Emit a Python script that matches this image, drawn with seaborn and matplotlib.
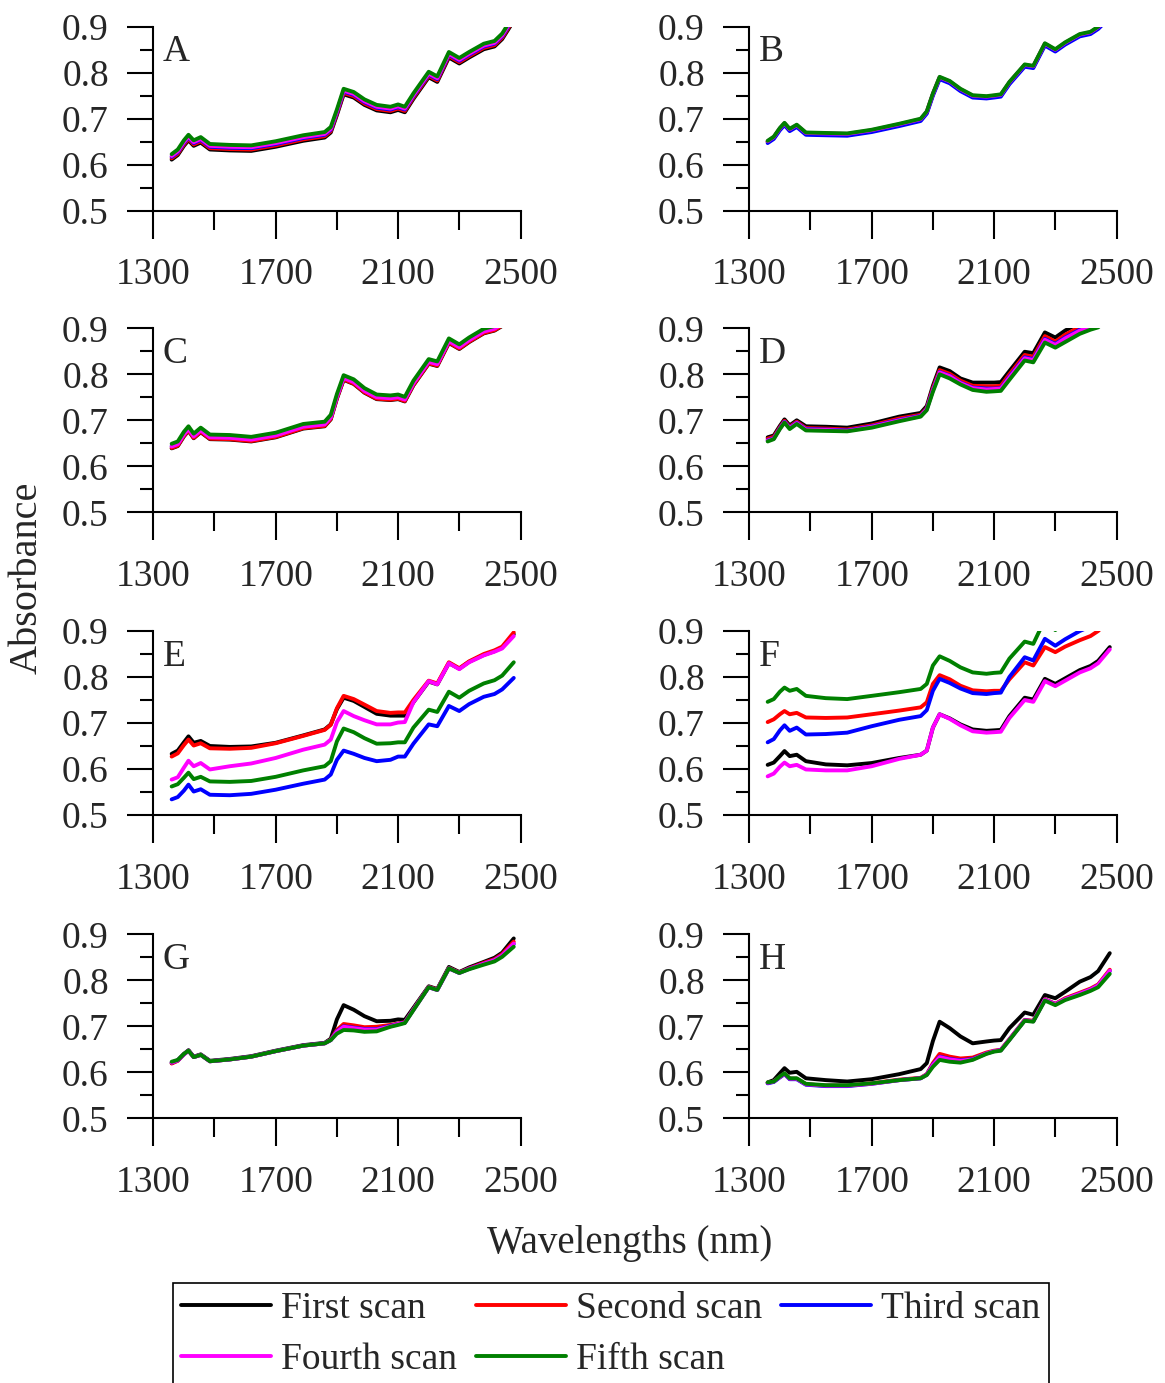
import numpy as np
import pandas as pd
import seaborn as sns
import matplotlib
matplotlib.use("Agg")
import matplotlib.pyplot as plt
from matplotlib.ticker import FixedLocator, FormatStrFormatter
from matplotlib.lines import Line2D

# ---------------- data ----------------
wavelengths = [1360, 1380, 1400, 1415, 1432, 1455, 1485, 1550, 1620, 1700, 1790, 1860, 1880, 1900, 1922,
               1955, 1990, 2030, 2075, 2100, 2122, 2150, 2200, 2228, 2266, 2300, 2332, 2380, 2415, 2440, 2478]

scan_names = ["First scan", "Second scan", "Third scan", "Fourth scan", "Fifth scan"]
scan_colors = ["#000000", "#ff0000", "#0000ff", "#ff00ff", "#008000"]
panel_labels = ["A", "B", "C", "D", "E", "F", "G", "H"]

A_first = [0.611,0.621,0.641,0.653,0.641,0.648,0.633,0.631,0.630,0.639,0.652,0.659,0.670,0.708,0.753,0.746,0.730,0.718,0.714,0.719,0.714,0.743,0.790,0.780,0.833,0.820,0.833,0.851,0.857,0.873,0.913]
A_second = [0.614,0.624,0.644,0.656,0.644,0.651,0.636,0.634,0.633,0.642,0.655,0.662,0.673,0.711,0.756,0.749,0.733,0.721,0.717,0.722,0.717,0.746,0.793,0.783,0.836,0.823,0.836,0.854,0.860,0.876,0.916]
A_third = [0.617,0.627,0.647,0.659,0.647,0.654,0.639,0.637,0.636,0.645,0.658,0.665,0.676,0.714,0.759,0.752,0.736,0.724,0.720,0.725,0.720,0.749,0.796,0.786,0.839,0.826,0.839,0.857,0.863,0.879,0.919]
A_fourth = [0.619,0.629,0.649,0.661,0.649,0.656,0.641,0.639,0.638,0.647,0.660,0.667,0.678,0.716,0.761,0.754,0.738,0.726,0.722,0.727,0.722,0.751,0.798,0.788,0.841,0.828,0.841,0.859,0.865,0.881,0.921]
A_fifth = [0.623,0.633,0.653,0.665,0.653,0.660,0.645,0.643,0.642,0.651,0.664,0.671,0.682,0.720,0.765,0.758,0.742,0.730,0.726,0.731,0.726,0.755,0.802,0.792,0.845,0.832,0.845,0.863,0.869,0.885,0.925]

B_first = [0.650,0.659,0.678,0.689,0.676,0.685,0.668,0.667,0.666,0.674,0.687,0.698,0.714,0.753,0.789,0.780,0.763,0.749,0.747,0.749,0.751,0.778,0.816,0.813,0.862,0.849,0.864,0.882,0.887,0.898,0.923]
B_second = [0.650,0.659,0.678,0.689,0.676,0.685,0.668,0.667,0.666,0.674,0.687,0.698,0.714,0.753,0.789,0.780,0.763,0.749,0.747,0.749,0.751,0.778,0.816,0.813,0.862,0.849,0.864,0.882,0.887,0.898,0.923]
B_third = [0.647,0.656,0.675,0.686,0.673,0.682,0.665,0.664,0.663,0.671,0.684,0.695,0.711,0.750,0.786,0.777,0.760,0.746,0.744,0.746,0.748,0.775,0.813,0.810,0.859,0.846,0.861,0.879,0.884,0.895,0.920]
B_fourth = [0.651,0.660,0.679,0.690,0.677,0.686,0.669,0.668,0.667,0.675,0.688,0.699,0.715,0.754,0.790,0.781,0.764,0.750,0.748,0.750,0.752,0.779,0.817,0.814,0.863,0.850,0.865,0.883,0.888,0.899,0.924]
B_fifth = [0.652,0.661,0.680,0.691,0.678,0.687,0.670,0.669,0.668,0.676,0.689,0.700,0.716,0.755,0.791,0.782,0.765,0.751,0.749,0.751,0.753,0.780,0.818,0.815,0.864,0.851,0.866,0.884,0.889,0.900,0.925]

C_first = [0.639,0.644,0.665,0.677,0.661,0.674,0.659,0.658,0.654,0.663,0.682,0.687,0.702,0.747,0.788,0.779,0.760,0.746,0.744,0.746,0.741,0.776,0.823,0.818,0.868,0.855,0.870,0.889,0.895,0.905,0.930]
C_second = [0.640,0.645,0.666,0.678,0.662,0.675,0.660,0.659,0.655,0.664,0.683,0.688,0.703,0.748,0.789,0.780,0.761,0.747,0.745,0.747,0.742,0.777,0.824,0.819,0.869,0.856,0.871,0.890,0.896,0.906,0.931]
C_third = [0.644,0.649,0.670,0.682,0.666,0.679,0.664,0.663,0.659,0.668,0.687,0.692,0.707,0.752,0.793,0.784,0.765,0.751,0.749,0.751,0.746,0.781,0.828,0.823,0.873,0.860,0.875,0.894,0.900,0.910,0.935]
C_fourth = [0.643,0.648,0.669,0.681,0.665,0.678,0.663,0.662,0.658,0.667,0.686,0.691,0.706,0.751,0.792,0.783,0.764,0.750,0.748,0.750,0.745,0.780,0.827,0.822,0.872,0.859,0.874,0.893,0.899,0.909,0.934]
C_fifth = [0.649,0.654,0.675,0.687,0.671,0.684,0.669,0.668,0.664,0.673,0.692,0.697,0.712,0.757,0.798,0.789,0.770,0.756,0.754,0.756,0.751,0.786,0.833,0.828,0.878,0.865,0.880,0.899,0.905,0.915,0.940]

D_first = [0.663,0.667,0.688,0.702,0.689,0.700,0.687,0.686,0.684,0.693,0.708,0.716,0.731,0.775,0.815,0.807,0.791,0.782,0.782,0.782,0.783,0.807,0.849,0.846,0.891,0.880,0.895,0.912,0.920,0.930,0.955]
D_second = [0.660,0.664,0.685,0.699,0.686,0.697,0.683,0.682,0.680,0.689,0.704,0.712,0.727,0.770,0.809,0.801,0.786,0.775,0.774,0.774,0.775,0.800,0.842,0.838,0.883,0.871,0.886,0.903,0.911,0.920,0.945]
D_third = [0.657,0.661,0.683,0.697,0.684,0.695,0.681,0.680,0.678,0.687,0.701,0.710,0.725,0.766,0.805,0.797,0.782,0.771,0.769,0.769,0.770,0.795,0.837,0.833,0.877,0.866,0.880,0.897,0.905,0.912,0.937]
D_fourth = [0.656,0.660,0.682,0.696,0.683,0.694,0.680,0.679,0.677,0.686,0.700,0.709,0.724,0.765,0.804,0.796,0.781,0.770,0.767,0.768,0.769,0.793,0.835,0.831,0.875,0.864,0.878,0.895,0.903,0.910,0.934]
D_fifth = [0.654,0.659,0.681,0.695,0.681,0.692,0.678,0.677,0.676,0.684,0.698,0.708,0.722,0.762,0.800,0.791,0.778,0.766,0.762,0.763,0.764,0.788,0.830,0.826,0.869,0.858,0.870,0.888,0.897,0.902,0.925]

E_first = [0.633,0.640,0.658,0.671,0.657,0.661,0.650,0.648,0.649,0.657,0.673,0.686,0.697,0.730,0.755,0.748,0.735,0.720,0.716,0.716,0.716,0.745,0.790,0.784,0.830,0.818,0.833,0.848,0.856,0.864,0.893]
E_second = [0.627,0.634,0.652,0.664,0.651,0.656,0.645,0.644,0.646,0.656,0.672,0.685,0.696,0.732,0.759,0.752,0.740,0.726,0.722,0.723,0.723,0.750,0.792,0.786,0.832,0.819,0.834,0.850,0.858,0.866,0.897]
E_third = [0.534,0.539,0.553,0.566,0.551,0.556,0.544,0.543,0.546,0.555,0.568,0.577,0.588,0.620,0.640,0.633,0.624,0.617,0.620,0.627,0.627,0.655,0.697,0.693,0.737,0.726,0.741,0.757,0.763,0.773,0.798]
E_fourth = [0.577,0.582,0.603,0.618,0.606,0.613,0.599,0.606,0.612,0.624,0.642,0.653,0.664,0.702,0.726,0.715,0.706,0.697,0.697,0.701,0.702,0.745,0.791,0.784,0.830,0.817,0.832,0.847,0.855,0.862,0.889]
E_fifth = [0.562,0.567,0.581,0.592,0.578,0.583,0.573,0.572,0.574,0.583,0.597,0.606,0.617,0.660,0.688,0.680,0.667,0.655,0.656,0.658,0.658,0.690,0.729,0.724,0.768,0.755,0.770,0.786,0.793,0.803,0.832]

F_first = [0.609,0.614,0.628,0.639,0.628,0.631,0.617,0.610,0.608,0.613,0.624,0.631,0.640,0.690,0.719,0.710,0.697,0.686,0.683,0.684,0.685,0.715,0.755,0.751,0.796,0.785,0.797,0.815,0.824,0.835,0.865]
F_second = [0.702,0.708,0.719,0.726,0.719,0.722,0.712,0.711,0.712,0.719,0.727,0.734,0.745,0.785,0.804,0.795,0.781,0.771,0.769,0.770,0.770,0.795,0.832,0.825,0.865,0.854,0.866,0.880,0.889,0.900,0.925]
F_third = [0.658,0.665,0.684,0.695,0.683,0.690,0.675,0.676,0.679,0.693,0.707,0.715,0.728,0.770,0.796,0.787,0.775,0.765,0.763,0.765,0.766,0.800,0.843,0.836,0.883,0.868,0.882,0.900,0.910,0.920,0.945]
F_fourth = [0.584,0.590,0.605,0.614,0.606,0.609,0.599,0.597,0.597,0.606,0.622,0.631,0.640,0.690,0.719,0.709,0.695,0.682,0.679,0.680,0.681,0.711,0.750,0.746,0.791,0.780,0.792,0.810,0.819,0.830,0.860]
F_fifth = [0.746,0.752,0.768,0.777,0.770,0.774,0.759,0.754,0.752,0.759,0.767,0.774,0.785,0.825,0.845,0.835,0.821,0.810,0.807,0.809,0.810,0.840,0.877,0.872,0.925,0.902,0.920,0.940,0.950,0.960,0.985]

G_first = [0.620,0.626,0.640,0.648,0.634,0.639,0.625,0.629,0.635,0.647,0.659,0.664,0.673,0.715,0.746,0.736,0.722,0.711,0.712,0.715,0.714,0.740,0.787,0.781,0.829,0.818,0.828,0.840,0.849,0.860,0.891]
G_second = [0.619,0.625,0.639,0.647,0.633,0.638,0.624,0.628,0.634,0.646,0.658,0.663,0.671,0.692,0.705,0.702,0.698,0.699,0.703,0.706,0.709,0.737,0.786,0.780,0.827,0.817,0.826,0.838,0.846,0.857,0.884]
G_third = [0.621,0.626,0.639,0.647,0.633,0.638,0.624,0.628,0.634,0.646,0.658,0.663,0.670,0.689,0.700,0.697,0.694,0.694,0.701,0.705,0.708,0.736,0.785,0.779,0.826,0.816,0.825,0.836,0.844,0.854,0.879]
G_fourth = [0.621,0.626,0.639,0.647,0.633,0.638,0.624,0.628,0.634,0.646,0.658,0.663,0.670,0.688,0.699,0.696,0.693,0.693,0.700,0.705,0.708,0.736,0.785,0.779,0.826,0.816,0.825,0.836,0.844,0.854,0.880]
G_fifth = [0.623,0.627,0.640,0.647,0.633,0.638,0.624,0.628,0.634,0.646,0.658,0.663,0.670,0.684,0.692,0.691,0.688,0.689,0.699,0.703,0.707,0.735,0.785,0.779,0.826,0.816,0.824,0.834,0.841,0.851,0.873]

H_first = [0.578,0.583,0.598,0.609,0.599,0.601,0.587,0.583,0.580,0.585,0.596,0.607,0.620,0.668,0.710,0.696,0.678,0.663,0.667,0.669,0.670,0.696,0.730,0.725,0.768,0.761,0.775,0.797,0.807,0.820,0.859]
H_second = [0.577,0.580,0.590,0.597,0.586,0.586,0.574,0.571,0.571,0.576,0.584,0.588,0.596,0.620,0.640,0.634,0.630,0.632,0.643,0.647,0.649,0.672,0.714,0.712,0.759,0.749,0.761,0.773,0.782,0.791,0.823]
H_third = [0.576,0.579,0.589,0.596,0.585,0.585,0.573,0.570,0.570,0.575,0.583,0.587,0.595,0.617,0.634,0.629,0.626,0.629,0.641,0.646,0.648,0.671,0.713,0.711,0.758,0.748,0.759,0.771,0.780,0.789,0.820]
H_fourth = [0.577,0.580,0.590,0.597,0.586,0.586,0.574,0.571,0.571,0.575,0.583,0.587,0.595,0.616,0.633,0.628,0.625,0.628,0.641,0.646,0.648,0.671,0.713,0.711,0.758,0.748,0.759,0.771,0.780,0.789,0.821]
H_fifth = [0.578,0.580,0.591,0.598,0.587,0.587,0.575,0.572,0.572,0.576,0.583,0.587,0.594,0.612,0.627,0.623,0.621,0.627,0.640,0.645,0.647,0.670,0.712,0.710,0.756,0.746,0.757,0.768,0.777,0.785,0.814]

panels = {
    "A": [A_first, A_second, A_third, A_fourth, A_fifth],
    "B": [B_first, B_second, B_third, B_fourth, B_fifth],
    "C": [C_first, C_second, C_third, C_fourth, C_fifth],
    "D": [D_first, D_second, D_third, D_fourth, D_fifth],
    "E": [E_first, E_second, E_third, E_fourth, E_fifth],
    "F": [F_first, F_second, F_third, F_fourth, F_fifth],
    "G": [G_first, G_second, G_third, G_fourth, G_fifth],
    "H": [H_first, H_second, H_third, H_fourth, H_fifth],
}

x_major = [1300, 1700, 2100, 2500]
x_minor = [1500, 1900, 2300]
y_major = [0.5, 0.6, 0.7, 0.8, 0.9]
y_minor = [0.55, 0.65, 0.75, 0.85]

# ---------------- style ----------------
sns.set_style("ticks")
plt.rcParams["font.family"] = ["Liberation Serif", "DejaVu Serif"]
plt.rcParams["axes.linewidth"] = 1.5
FS = 27
LW = 2.8

palette = dict(zip(scan_names, scan_colors))

fig = plt.figure(figsize=(11.65, 13.83), dpi=100)
W, H = 1165.0, 1383.0
lefts = [153.3, 749.3]
bottoms = [210.7, 512.3, 815.0, 1118.3]
ax_w = 367.2
ax_h = 184.0

for i, lab in enumerate(panel_labels):
    r, c = divmod(i, 2)
    ax = fig.add_axes([lefts[c] / W, 1 - bottoms[r] / H, ax_w / W, ax_h / H])
    rows = []
    for name, vals in zip(scan_names, panels[lab]):
        for w, v in zip(wavelengths, vals):
            rows.append((w, v, name))
    df = pd.DataFrame(rows, columns=["Wavelength", "Absorbance", "Scan"])
    sns.lineplot(data=df, x="Wavelength", y="Absorbance", hue="Scan",
                 hue_order=scan_names, palette=palette, linewidth=LW,
                 legend=False, ax=ax, sort=False, estimator=None)
    ax.set_xlim(1300, 2500)
    ax.set_ylim(0.5, 0.9)
    ax.set_xlabel("")
    ax.set_ylabel("")
    for s in ["top", "right"]:
        ax.spines[s].set_visible(False)
    for s in ["left", "bottom"]:
        ax.spines[s].set_linewidth(1.5)
        ax.spines[s].set_color("black")
    ax.xaxis.set_major_locator(FixedLocator(x_major))
    ax.xaxis.set_minor_locator(FixedLocator(x_minor))
    ax.yaxis.set_major_locator(FixedLocator(y_major))
    ax.yaxis.set_minor_locator(FixedLocator(y_minor))
    ax.yaxis.set_major_formatter(FormatStrFormatter("%.1f"))
    ax.tick_params(axis="x", which="major", direction="out", length=20, width=1.5,
                   labelsize=FS, pad=14, color="black")
    ax.tick_params(axis="x", which="minor", direction="out", length=13.5, width=1.5, color="black")
    ax.tick_params(axis="y", which="major", direction="out", length=19, width=1.5,
                   labelsize=FS, pad=13, color="black")
    ax.tick_params(axis="y", which="minor", direction="out", length=9.5, width=1.5, color="black")
    ax.text(0.025, 0.955, lab, transform=ax.transAxes, ha="left", va="top", fontsize=FS)
    ax.set_facecolor("white")

fig.text(27 / W, 1 - 578 / H, "Absorbance", rotation=90, ha="center", va="center", fontsize=29)
fig.text(630 / W, 1 - 1243 / H, "Wavelengths (nm)", ha="center", va="center", fontsize=28)

handles = [Line2D([0], [0], color=c, linewidth=LW) for c in scan_colors]
order = [0, 3, 1, 4, 2]
leg = fig.legend([handles[k] for k in order], [scan_names[k] for k in order],
                 loc="upper left", bbox_to_anchor=(173 / W, 1 - 1283 / H),
                 ncol=3, fontsize=FS, frameon=True, fancybox=False, shadow=False,
                 framealpha=1, edgecolor="black", borderaxespad=0, borderpad=0.22,
                 handlelength=2.4, handletextpad=0.27, columnspacing=0.5, labelspacing=0.45)
leg.get_frame().set_linewidth(1.2)

fig.savefig("out.png", dpi=100, facecolor="white")
